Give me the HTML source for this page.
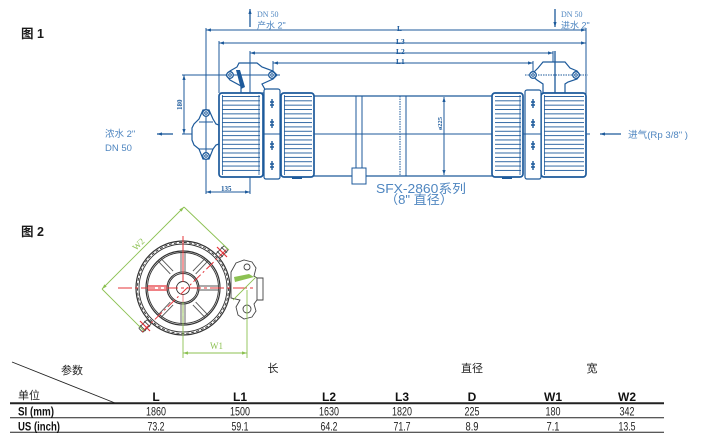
<!DOCTYPE html>
<html><head><meta charset="utf-8"><style>
html,body{margin:0;padding:0;background:#fff;}
svg{display:block;}
.cj{font-family:"Liberation Sans","Noto Sans CJK SC",sans-serif;}
.sf{font-family:"Liberation Serif",serif;}
</style></head><body>
<svg width="717" height="442" viewBox="0 0 717 442" xmlns="http://www.w3.org/2000/svg">
<defs>
<marker id="ah" markerWidth="5" markerHeight="4" refX="5" refY="2" orient="auto-start-reverse" markerUnits="userSpaceOnUse"><path d="M0,0.4 L5,2 L0,3.6z" fill="#1d5a9b"/></marker>
<marker id="ag" markerWidth="5" markerHeight="4" refX="5" refY="2" orient="auto-start-reverse" markerUnits="userSpaceOnUse"><path d="M0,0.4 L5,2 L0,3.6z" fill="#8cc152"/></marker>
<pattern id="rib" patternUnits="userSpaceOnUse" x="0" y="96" width="10" height="4.35"><rect x="0" y="0" width="10" height="0.9" fill="#1d5a9b"/></pattern>
</defs>

<!-- Titles -->
<text x="21" y="38" class="cj" font-size="12.5" font-weight="bold" fill="#1a1a1a">图 1</text>
<text x="21" y="236" class="cj" font-size="12.5" font-weight="bold" fill="#1a1a1a">图 2</text>

<!-- FIG 1 -->
<g stroke="#1d5a9b" stroke-width="1" fill="none">
  <line x1="206" y1="30" x2="586" y2="30" marker-start="url(#ah)" marker-end="url(#ah)"/>
  <line x1="219" y1="43" x2="586" y2="43" marker-start="url(#ah)" marker-end="url(#ah)"/>
  <line x1="250" y1="53" x2="553" y2="53" marker-start="url(#ah)" marker-end="url(#ah)"/>
  <line x1="273" y1="63" x2="533" y2="63" marker-start="url(#ah)" marker-end="url(#ah)"/>
  <line x1="206" y1="28" x2="206" y2="194"/>
  <line x1="219" y1="41" x2="219" y2="93"/>
  <line x1="250" y1="51" x2="250" y2="194"/>
  <line x1="273" y1="61" x2="273" y2="75"/>
  <line x1="553" y1="51" x2="553" y2="100"/>
  <line x1="533" y1="61" x2="533" y2="75"/>
  <line x1="586" y1="28" x2="586" y2="97"/>
  <line x1="182" y1="75" x2="280" y2="75"/>
  <line x1="525" y1="75" x2="588" y2="75" stroke-dasharray="1.5,1"/>
  <line x1="184" y1="75" x2="184" y2="134" marker-start="url(#ah)" marker-end="url(#ah)"/>
  <line x1="206" y1="192" x2="250" y2="192" marker-start="url(#ah)" marker-end="url(#ah)"/>
  <line x1="182" y1="134" x2="590" y2="134"/>
  <line x1="250" y1="27" x2="250" y2="9" marker-end="url(#ah)" stroke-width="1.3"/>
  <line x1="555" y1="9" x2="555" y2="27" marker-end="url(#ah)" stroke-width="1.3"/>
  <line x1="173" y1="134" x2="157" y2="134" marker-end="url(#ah)" stroke-width="1.3"/>
  <line x1="621" y1="134" x2="600" y2="134" marker-end="url(#ah)" stroke-width="1.3"/>

  <line x1="314" y1="96" x2="492" y2="96" stroke-width="1.2"/>
  <line x1="314" y1="176" x2="492" y2="176" stroke-width="1.2"/>
  <rect x="356" y="96" width="6" height="72"/>
  <rect x="352" y="168" width="14" height="16" fill="#fff"/>
  <line x1="400" y1="96" x2="400" y2="176" stroke-dasharray="1.5,1"/>
  <line x1="406" y1="96" x2="406" y2="176"/>
  <line x1="444" y1="97" x2="444" y2="175" marker-start="url(#ah)" marker-end="url(#ah)"/>

  <path d="M203,110 L209,110 L213,119 L216,124 L219,125 L219,144 L216,145 L213,149 L209,159 L203,159 L199,149 L194,145 L192,140 L192,128 L194,124 L199,119 Z" fill="#fff" stroke-width="1.2"/>
  <line x1="206" y1="108" x2="206" y2="161"/>
  <line x1="199" y1="122" x2="213" y2="122"/>
  <line x1="199" y1="149" x2="213" y2="149"/>
  <circle cx="206" cy="113" r="3.3" fill="#fff" stroke-width="1.3"/>
  <circle cx="206" cy="113" r="1.3"/>
  <circle cx="206" cy="156" r="3.3" fill="#fff" stroke-width="1.3"/>
  <circle cx="206" cy="156" r="1.3"/>

  <path d="M239,63 L257,63 L262,67 L273,71 L277,75 L273,79 L262,84 L267,93 L241,93 L241,86 L230,80 L226,75 L230,71 L237,67 Z" fill="#fff" stroke-width="1.2"/>
  <line x1="250" y1="60" x2="250" y2="94"/>
  <line x1="226" y1="75" x2="280" y2="75"/>
  <polygon points="236,70 240,70 245,87 241,89" fill="#1d5a9b" stroke="none"/>
  <circle cx="230" cy="75" r="3.3" fill="#fff" stroke-width="1.3"/>
  <circle cx="230" cy="75" r="1.3"/>
  <circle cx="272" cy="75" r="3.3" fill="#fff" stroke-width="1.3"/>
  <circle cx="272" cy="75" r="1.3"/>

  <path d="M543,62 L565,62 L570,68 L577,71 L580,75 L577,79 L568,82 L565,84 L565,93 L543,93 L543,84 L537,80 L531,75 L535,71 L538,68 Z" fill="#fff" stroke-width="1.2"/>
  <line x1="555" y1="51" x2="555" y2="100" stroke-width="1.3"/>
  <line x1="533" y1="75" x2="580" y2="75" stroke-dasharray="1.5,1"/>
  <circle cx="533" cy="75" r="3.3" fill="#fff" stroke-width="1.3"/>
  <circle cx="533" cy="75" r="1.3"/>
  <circle cx="576" cy="75" r="3.3" fill="#fff" stroke-width="1.3"/>
  <circle cx="576" cy="75" r="1.3"/>
</g>

<g stroke="#1d5a9b" fill="#fff">
  <rect x="219" y="93" width="44" height="84" rx="3" stroke-width="1.7"/>
  <rect x="222" y="96" width="38" height="78" fill="url(#rib)" stroke="none"/>
  <line x1="222.5" y1="95" x2="222.5" y2="175" stroke-width="0.8"/>
  <line x1="259" y1="95" x2="259" y2="175" stroke-width="0.8"/>

  <rect x="281" y="93" width="33" height="84" rx="3" stroke-width="1.7"/>
  <rect x="284" y="96" width="28" height="78" fill="url(#rib)" stroke="none"/>
  <line x1="284.5" y1="95" x2="284.5" y2="175" stroke-width="0.8"/>

  <rect x="492" y="93" width="31" height="84" rx="3" stroke-width="1.7"/>
  <rect x="495" y="96" width="26" height="78" fill="url(#rib)" stroke="none"/>
  <line x1="520" y1="95" x2="520" y2="175" stroke-width="0.8"/>

  <rect x="541" y="93" width="45" height="84" rx="3" stroke-width="1.7"/>
  <rect x="544" y="96" width="40" height="78" fill="url(#rib)" stroke="none"/>
  <line x1="544.5" y1="95" x2="544.5" y2="175" stroke-width="0.8"/>

  <rect x="264" y="89" width="16" height="90" rx="2" stroke-width="1.2"/>
  <rect x="525" y="90" width="16" height="89" rx="2" stroke-width="1.2"/>
  <line x1="264" y1="134" x2="280" y2="134" stroke-width="1"/>
  <line x1="525" y1="134" x2="541" y2="134" stroke-width="1"/>
  <rect x="292" y="177" width="10" height="2" fill="#1d5a9b" stroke="none"/>
  <rect x="502" y="177" width="10" height="2" fill="#1d5a9b" stroke="none"/>
</g>
<g stroke="#1d5a9b" stroke-width="1.4" fill="none">
  <path d="M272,99 v9 M270,102 h4 M270,105 h4"/>
  <path d="M272,119 v9 M270,122 h4 M270,125 h4"/>
  <path d="M272,141 v9 M270,144 h4 M270,147 h4"/>
  <path d="M272,161 v9 M270,164 h4 M270,167 h4"/>
  <path d="M533,99 v9 M531,102 h4 M531,105 h4"/>
  <path d="M533,119 v9 M531,122 h4 M531,125 h4"/>
  <path d="M533,141 v9 M531,144 h4 M531,147 h4"/>
  <path d="M533,161 v9 M531,164 h4 M531,167 h4"/>
</g>

<g fill="#1d5a9b" class="sf" font-weight="bold" font-size="7.5">
  <text x="397" y="31">L</text>
  <text x="396" y="44">L3</text>
  <text x="396" y="54">L2</text>
  <text x="396" y="64">L1</text>
  <text x="221" y="191" font-size="7">135</text>
  <text transform="translate(182,110) rotate(-90)" font-size="7">180</text>
  <text transform="translate(442,130) rotate(-90)" font-size="6.5">ø225</text>
</g>
<g fill="#4f86c0">
  <text x="257" y="17" class="sf" font-size="8">DN 50</text>
  <text x="257" y="28.5" class="cj" font-size="9">产水 2"</text>
  <text x="561" y="17" class="sf" font-size="8">DN 50</text>
  <text x="561" y="28.5" class="cj" font-size="9">进水 2"</text>
  <text x="105" y="137" class="cj" font-size="9.5">浓水 2"</text>
  <text x="105" y="151" class="cj" font-size="9.5">DN 50</text>
  <text x="628" y="138" class="cj" font-size="9.5" textLength="60" lengthAdjust="spacingAndGlyphs">进气(Rp 3/8" )</text>
  <text x="376" y="193" class="cj" font-size="12.5" textLength="90" lengthAdjust="spacingAndGlyphs">SFX-2860系列</text>
  <text x="385" y="204" class="cj" font-size="12.5" textLength="68" lengthAdjust="spacingAndGlyphs">（8" 直径）</text>
</g>

<!-- FIG 2 -->
<g fill="none" stroke="#333" stroke-width="0.9">
  <circle cx="183" cy="288" r="47" stroke-width="1.2"/>
  <circle cx="183" cy="288" r="45.5" stroke-dasharray="3,2"/>
  <circle cx="183" cy="288" r="44"/>
  <circle cx="183" cy="288" r="37" stroke-width="1.2"/>
  <circle cx="183" cy="288" r="35.5"/>
  <circle cx="183" cy="288" r="16" stroke-width="1.1"/>
  <circle cx="183" cy="288" r="14.5"/>
  <circle cx="183" cy="288" r="6.5"/>
  <g stroke="#555">
    <path d="M181,272 V253 M185,272 V253"/>
    <path d="M181,304 V323 M185,304 V323"/>
    <path d="M167,286 H148 M167,290 H148"/>
    <path d="M199,286 H218 M199,290 H218"/>
    <path d="M170.3,273.9 L158.2,261.2 M173.1,271.1 L160.9,258.4" />
    <path d="M195.7,302.1 L207.8,314.8 M192.9,304.9 L205.1,317.6"/>
    <path d="M195.7,273.9 L207.8,261.2 M192.9,271.1 L205.1,258.4"/>
    <path d="M170.3,302.1 L158.2,314.8 M173.1,304.9 L160.9,317.6"/>
  </g>
</g>
<g fill="#fff" stroke="#444" stroke-width="0.9">
  <path d="M231,272 L236,263 L244,260 L252,262 L256,268 L254,276 L257,278 L263,278 L263,300 L257,300 L254,304 L256,311 L252,317 L244,319 L238,315 L236,307 L240,300 L231,298 Z"/>
  <circle cx="247" cy="267" r="3"/>
  <circle cx="247" cy="309" r="4"/>
  <line x1="257" y1="278" x2="257" y2="300"/>
</g>
<polygon points="234,277 249,274 254,277 235,282" fill="#8cc152"/>
<g stroke="#444" stroke-width="0.9" fill="#fff">
  <g transform="translate(222,252) rotate(-45)"><rect x="-6" y="-3" width="12" height="6" rx="1"/><line x1="-3" y1="-4" x2="-3" y2="4"/><line x1="3" y1="-4" x2="3" y2="4"/></g>
  <g transform="translate(145,326) rotate(-45)"><rect x="-6" y="-3" width="12" height="6" rx="1"/><line x1="-3" y1="-4" x2="-3" y2="4"/><line x1="3" y1="-4" x2="3" y2="4"/></g>
</g>
<g stroke="#e5343a" stroke-width="1" fill="none">
  <line x1="183" y1="236" x2="183" y2="282"/>
  <line x1="183" y1="294" x2="183" y2="330" stroke-dasharray="8,3" stroke-opacity="0.6"/>
  <line x1="118" y1="288" x2="253" y2="288" stroke-dasharray="14,3,3,3"/>
  <line x1="142" y1="332" x2="228" y2="248" stroke-dasharray="10,3,2,3"/>
  <line x1="148" y1="286" x2="167" y2="286" stroke-width="1.3"/>
  <line x1="148" y1="290" x2="167" y2="290" stroke-width="1.3"/>
  <line x1="217" y1="247" x2="227" y2="257" stroke-width="1.2"/>
  <line x1="140" y1="321" x2="150" y2="331" stroke-width="1.2"/>
</g>
<g stroke="#8cc152" stroke-width="0.9" fill="none">
  <line x1="102" y1="289" x2="184" y2="207" marker-start="url(#ag)" marker-end="url(#ag)"/>
  <line x1="184" y1="207" x2="229" y2="250"/>
  <line x1="102" y1="289" x2="144" y2="331"/>
  <line x1="183" y1="302" x2="183" y2="358"/>
  <line x1="247" y1="290" x2="247" y2="358"/>
  <line x1="183" y1="353" x2="247" y2="353" marker-start="url(#ag)" marker-end="url(#ag)"/>
  <line x1="233" y1="300" x2="256" y2="277"/>
</g>
<g fill="#8cc152" class="sf" font-size="9">
  <text transform="translate(136,251) rotate(-45)">W2</text>
  <text x="210" y="349">W1</text>
</g>

<!-- TABLE -->
<g stroke="#222" fill="none">
  <line x1="12" y1="362" x2="115" y2="403" stroke-width="0.9"/>
  <line x1="10" y1="403.3" x2="664" y2="403.3" stroke-width="2"/>
  <line x1="10" y1="417.8" x2="664" y2="417.8" stroke-width="1"/>
  <line x1="10" y1="432.3" x2="664" y2="432.3" stroke-width="1"/>
</g>
<g class="cj" font-size="11" fill="#222">
  <text x="61" y="374">参数</text>
  <text x="273" y="372" text-anchor="middle">长</text>
  <text x="472" y="372" text-anchor="middle">直径</text>
  <text x="592" y="372" text-anchor="middle">宽</text>
  <text x="18" y="399">单位</text>
</g>
<g font-family="Liberation Sans, sans-serif" font-size="12" font-weight="bold" fill="#111" text-anchor="middle">
  <text x="156" y="401">L</text>
  <text x="240" y="401">L1</text>
  <text x="329" y="401">L2</text>
  <text x="402" y="401">L3</text>
  <text x="472" y="401">D</text>
  <text x="553" y="401">W1</text>
  <text x="627" y="401">W2</text>
</g>
<g font-family="Liberation Sans, sans-serif" font-size="12" font-weight="bold" fill="#111">
  <text x="18" y="415.5" textLength="36" lengthAdjust="spacingAndGlyphs">SI (mm)</text>
  <text x="18" y="430.5" textLength="42" lengthAdjust="spacingAndGlyphs">US (inch)</text>
</g>
<g font-family="Liberation Sans, sans-serif" font-size="12" fill="#222">
  <text x="146" y="415.5" textLength="20" lengthAdjust="spacingAndGlyphs">1860</text>
  <text x="230" y="415.5" textLength="20" lengthAdjust="spacingAndGlyphs">1500</text>
  <text x="319" y="415.5" textLength="20" lengthAdjust="spacingAndGlyphs">1630</text>
  <text x="392" y="415.5" textLength="20" lengthAdjust="spacingAndGlyphs">1820</text>
  <text x="464.5" y="415.5" textLength="15" lengthAdjust="spacingAndGlyphs">225</text>
  <text x="545.5" y="415.5" textLength="15" lengthAdjust="spacingAndGlyphs">180</text>
  <text x="619.5" y="415.5" textLength="15" lengthAdjust="spacingAndGlyphs">342</text>
  <text x="147.5" y="430.5" textLength="17" lengthAdjust="spacingAndGlyphs">73.2</text>
  <text x="231.5" y="430.5" textLength="17" lengthAdjust="spacingAndGlyphs">59.1</text>
  <text x="320.5" y="430.5" textLength="17" lengthAdjust="spacingAndGlyphs">64.2</text>
  <text x="393.5" y="430.5" textLength="17" lengthAdjust="spacingAndGlyphs">71.7</text>
  <text x="465.5" y="430.5" textLength="13" lengthAdjust="spacingAndGlyphs">8.9</text>
  <text x="546.5" y="430.5" textLength="13" lengthAdjust="spacingAndGlyphs">7.1</text>
  <text x="618.5" y="430.5" textLength="17" lengthAdjust="spacingAndGlyphs">13.5</text>
</g>
</svg>
</body></html>
